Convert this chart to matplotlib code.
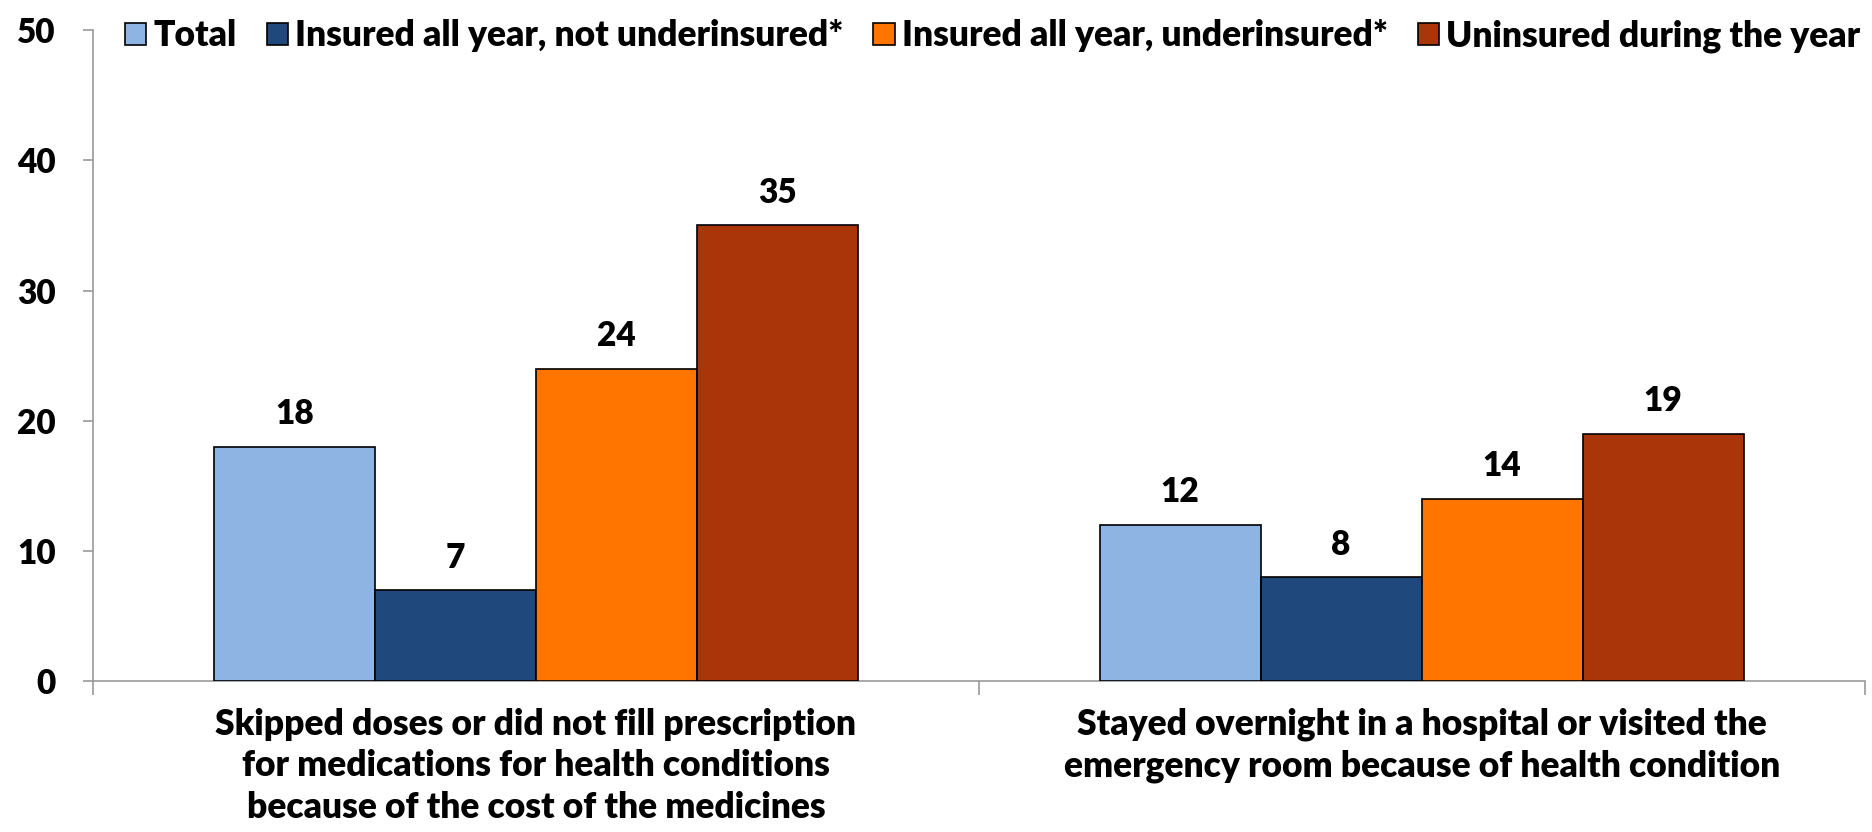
import numpy as np
import matplotlib
matplotlib.use('Agg')
import matplotlib.pyplot as plt
from matplotlib.ticker import FixedLocator

plt.rcParams['font.family'] = ['Lato', 'DejaVu Sans']
plt.rcParams['font.weight'] = 'heavy'

##=========================================
# Data
##=========================================
categories = ['Skipped doses or did not fill prescription\nfor medications for health conditions\nbecause of the cost of the medicines',
              'Stayed overnight in a hospital or visited the\nemergency room because of health condition']
series_names = ['Total', 'Insured all year, not underinsured*',
                'Insured all year, underinsured*', 'Uninsured during the year']
total = [18, 12]
insured_not_under = [7, 8]
insured_under = [24, 14]
uninsured = [35, 19]
series_values = [total, insured_not_under, insured_under, uninsured]
colors = ['#8EB4E3', '#1F497D', '#FF7500', '#AA3509']
yticks = [0, 10, 20, 30, 40, 50]

##=========================================
# Plot
##=========================================
fig = plt.figure(figsize=(18.72, 8.32), dpi=100)
ax = fig.add_axes([0.0497, 0.181, 0.9463, 0.783])

x = np.arange(len(categories))
width = 1 / 5.5
n = len(series_values)
for i, vals in enumerate(series_values):
    pos = x + (i - (n - 1) / 2) * width
    bars = ax.bar(pos, vals, width, color=colors[i], edgecolor='black',
                  linewidth=1.2, label=series_names[i], zorder=3)
    for b, v in zip(bars, vals):
        ax.annotate(str(v), (b.get_x() + b.get_width() / 2, v),
                    xytext=(0, 12), textcoords='offset points',
                    ha='center', va='bottom', fontsize=24, fontweight='heavy')

ax.set_xlim(-0.5, 1.5)
ax.set_ylim(0, 50)
ax.set_yticks(yticks)
ax.tick_params(axis='y', labelsize=24, length=7, width=1.2, color='#999999',
               pad=20, direction='out')
ax.xaxis.set_major_locator(FixedLocator([-0.5, 0.5, 1.5]))
ax.xaxis.set_minor_locator(FixedLocator(x))
ax.set_xticklabels([], minor=False)
ax.set_xticklabels(categories, minor=True, fontsize=25.5, linespacing=1.32)
ax.tick_params(axis='x', which='major', length=10, width=1.2, color='#999999')
ax.tick_params(axis='x', which='minor', length=0, pad=19)

for s in ['top', 'right']:
    ax.spines[s].set_visible(False)
for s in ['left', 'bottom']:
    ax.spines[s].set_color('#999999')
    ax.spines[s].set_linewidth(1.2)

ax.legend(loc='upper left', bbox_to_anchor=(0.01, 1.038), ncol=4, frameon=False,
          fontsize=25.5, handlelength=0.6, handleheight=0.6, handletextpad=0.2,
          columnspacing=0.85, borderaxespad=0)

plt.savefig('out.png', dpi=100)
